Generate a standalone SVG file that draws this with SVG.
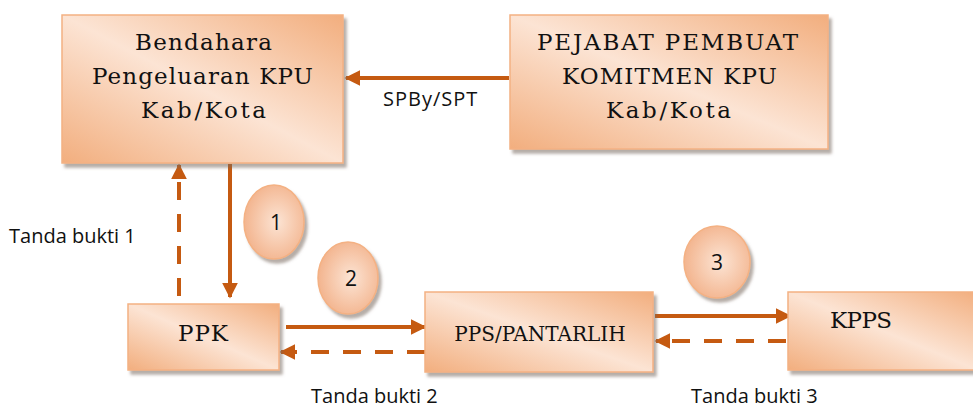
<svg xmlns="http://www.w3.org/2000/svg" width="973" height="410" viewBox="0 0 973 410">
<style>
.box{fill:url(#g);stroke:#F4B183;stroke-width:1.5;filter:url(#sh)}
.bt{font-family:"DejaVu Serif","Liberation Serif",serif;font-size:23px;fill:#111;text-anchor:middle}
.lbl{font-family:"Open Sans","Liberation Sans",sans-serif;font-size:20px;fill:#111}
.num{font-family:"Open Sans","Liberation Sans",sans-serif;font-size:21px;fill:#111;text-anchor:middle}
.solid{stroke:#C55A11;stroke-width:4;fill:none}
.dash{stroke:#C55A11;stroke-width:4;fill:none;stroke-dasharray:18 14}
</style>
<defs>
<linearGradient id="g" x1="0" y1="1" x2="1" y2="0">
<stop offset="0" stop-color="#F2AE7E"/>
<stop offset="0.5" stop-color="#FCE4D4"/>
<stop offset="1" stop-color="#F2AE7E"/>
</linearGradient>
<radialGradient id="eg" cx="0.55" cy="0.5" r="0.6">
<stop offset="0" stop-color="#FCE4D4"/>
<stop offset="1" stop-color="#F2B088"/>
</radialGradient>
<filter id="sh" x="-10%" y="-10%" width="125%" height="130%">
<feDropShadow dx="3" dy="4" stdDeviation="1.5" flood-color="#7a6a60" flood-opacity="0.55"/>
</filter>
<marker id="ah" viewBox="0 0 10 10" refX="9" refY="5" markerWidth="4" markerHeight="4" orient="auto" markerUnits="strokeWidth">
<path d="M0,0 L10,5 L0,10 z" fill="#C55A11"/>
</marker>
</defs>
<g id="connectors">
<line class="solid" x1="509" y1="78" x2="346" y2="78" marker-end="url(#ah)"/>
<line class="solid" x1="230" y1="164" x2="230" y2="297" marker-end="url(#ah)"/>
<line class="dash" x1="179" y1="296" x2="179" y2="165" marker-end="url(#ah)"/>
<line class="solid" x1="286" y1="327" x2="425" y2="327" marker-end="url(#ah)"/>
<line class="dash" x1="425" y1="352" x2="281" y2="352" marker-end="url(#ah)"/>
<line class="solid" x1="655" y1="316" x2="790" y2="316" marker-end="url(#ah)"/>
<line class="dash" x1="786" y1="341" x2="656" y2="341" marker-end="url(#ah)"/>
<text class="lbl" x="383" y="106" letter-spacing="1">SPBy/SPT</text>
<text class="lbl" x="9" y="243">Tanda bukti 1</text>
<text class="lbl" x="311" y="403">Tanda bukti 2</text>
<text class="lbl" x="691" y="403">Tanda bukti 3</text>
</g>
<g id="bendahara">
<rect class="box" x="62" y="15" width="281" height="148"/>
<text class="bt" x="203.5" y="50" textLength="137" lengthAdjust="spacing">Bendahara</text>
<text class="bt" x="202.5" y="84" textLength="221" lengthAdjust="spacing">Pengeluaran KPU</text>
<text class="bt" x="203.5" y="118" textLength="125" lengthAdjust="spacing">Kab/Kota</text>
</g>
<g id="pejabat">
<rect class="box" x="510" y="15" width="318" height="134"/>
<text class="bt" x="667.5" y="50" textLength="261" lengthAdjust="spacing">PEJABAT PEMBUAT</text>
<text class="bt" x="669.5" y="84" textLength="215" lengthAdjust="spacing">KOMITMEN KPU</text>
<text class="bt" x="668.5" y="118" textLength="125" lengthAdjust="spacing">Kab/Kota</text>
</g>
<g id="ppk">
<rect class="box" x="128" y="304" width="151" height="66"/>
<text class="bt" x="203" y="341" textLength="50" lengthAdjust="spacing">PPK</text>
</g>
<g id="pps">
<rect class="box" x="425" y="292" width="228" height="80"/>
<text class="bt" x="540" y="341" style="font-size:20px">PPS/PANTARLIH</text>
</g>
<g id="kpps">
<rect class="box" x="788" y="292" width="190" height="78"/>
<text class="bt" x="861" y="328" textLength="62" lengthAdjust="spacing">KPPS</text>
</g>
<g id="step1">
<ellipse cx="274" cy="222" rx="30" ry="37" fill="url(#eg)" stroke="#F4B183" stroke-width="1.5" filter="url(#sh)"/>
<text class="num" x="276" y="230">1</text>
</g>
<g id="step2">
<ellipse cx="348" cy="278" rx="30" ry="36" fill="url(#eg)" stroke="#F4B183" stroke-width="1.5" filter="url(#sh)"/>
<text class="num" x="351" y="286">2</text>
</g>
<g id="step3">
<ellipse cx="717" cy="262" rx="33" ry="36" fill="url(#eg)" stroke="#F4B183" stroke-width="1.5" filter="url(#sh)"/>
<text class="num" x="717" y="270">3</text>
</g>
</svg>
